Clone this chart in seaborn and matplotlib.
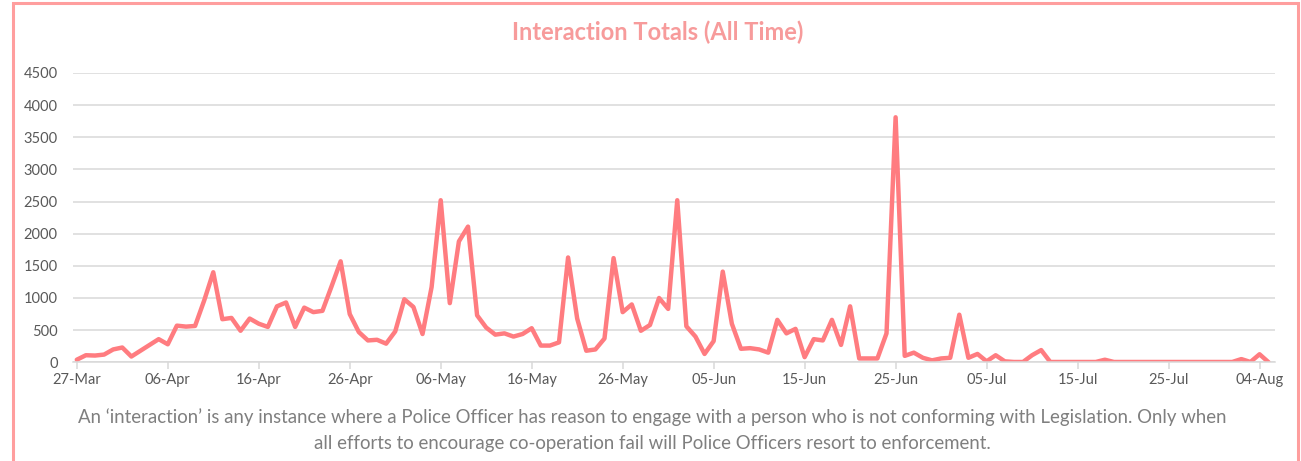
import matplotlib
matplotlib.use("Agg")
import matplotlib.pyplot as plt
import matplotlib.dates as mdates
from matplotlib.patches import Rectangle
import numpy as np
import pandas as pd
import seaborn as sns

# ---- data -------------------------------------------------------------
start_date = "2020-03-27"
values = [
    40, 110, 105, 120, 200, 230, 90, 180, 270, 360,          # 27-Mar .. 05-Apr
    280, 570, 555, 565, 960, 1400, 670, 690, 490, 680,       # 06-Apr .. 15-Apr
    600, 550, 870, 930, 550, 850, 780, 800, 1180, 1570,      # 16-Apr .. 25-Apr
    750, 470, 340, 350, 290, 480, 980, 860, 440, 1170,       # 26-Apr .. 05-May
    2520, 920, 1880, 2110, 730, 540, 430, 450, 400, 440,     # 06-May .. 15-May
    530, 260, 260, 310, 1630, 680, 180, 200, 370, 1620,      # 16-May .. 25-May
    780, 900, 490, 580, 1000, 830, 2520, 560, 400, 130,      # 26-May .. 04-Jun
    330, 1410, 600, 210, 220, 200, 150, 660, 450, 520,       # 05-Jun .. 14-Jun
    80, 360, 340, 660, 270, 870, 60, 60, 60, 450,            # 15-Jun .. 24-Jun
    3810, 100, 150, 70, 30, 60, 70, 740, 70, 130,            # 25-Jun .. 04-Jul
    15, 110, 15, 5, 5, 110, 190, 5, 5, 5,                    # 05-Jul .. 14-Jul
    5, 5, 5, 40, 5, 5, 5, 5, 5, 5,                           # 15-Jul .. 24-Jul
    5, 5, 5, 5, 5, 5, 5, 5, 50, 5,                           # 25-Jul .. 03-Aug
    125, 0,                                                  # 04-Aug .. 05-Aug
]
dates = pd.date_range(start_date, periods=len(values), freq="D")
tick_dates = pd.date_range(start_date, periods=14, freq="10D")
y_ticks = [0, 500, 1000, 1500, 2000, 2500, 3000, 3500, 4000, 4500]
title = "Interaction Totals (All Time)"
caption = ("An \u2018interaction\u2019 is any instance where a Police Officer has reason to engage with a person who is not conforming with Legislation. Only when\n"
           "all efforts to encourage co-operation fail will Police Officers resort to enforcement.")

df = pd.DataFrame({"date": dates, "value": values})

# ---- style ------------------------------------------------------------
sns.set_theme(style="white")
plt.rcParams["font.family"] = ["Lato", "DejaVu Sans"]

LINE = "#FF7C80"
GRID = "#D9D9D9"
TXT = "#595959"

fig = plt.figure(figsize=(13.01, 4.61), dpi=100)
ax = fig.add_axes([73 / 1301, 1 - 362.3 / 461, (1275 - 73) / 1301, (362.3 - 72.9) / 461])

sns.lineplot(data=df, x="date", y="value", ax=ax, color=LINE, linewidth=3.2,
             solid_joinstyle="round", solid_capstyle="round")

ax.set_ylim(0, 4500)
ax.set_yticks(y_ticks)
ax.set_yticklabels([str(v) for v in y_ticks])
ax.set_xlim(dates[0] - pd.Timedelta(hours=10), dates[0] + pd.Timedelta(days=131.7))
ax.set_xticks(tick_dates)
ax.xaxis.set_major_formatter(mdates.DateFormatter("%d-%b"))

ax.grid(axis="y", color=GRID, linewidth=1.1)
ax.grid(axis="x", visible=False)
ax.set_axisbelow(True)
for s in ["top", "right", "left"]:
    ax.spines[s].set_visible(False)
ax.spines["bottom"].set_color(GRID)
ax.spines["bottom"].set_linewidth(1.1)
ax.tick_params(axis="x", which="major", bottom=True, length=5, width=1.1, color=GRID,
               labelsize=10.5, labelcolor=TXT, pad=3)
ax.tick_params(axis="y", left=False, length=0, labelsize=10.5, labelcolor=TXT, pad=11)
ax.set_xlabel("")
ax.set_ylabel("")

fig.text(658 / 1301, 1 - 32 / 461, title, ha="center", va="center",
         fontsize=17, fontweight="bold", color="#F79B9B")
fig.text(652 / 1301, 1 - 430 / 461, caption, ha="center", va="center",
         fontsize=13.4, color="#7F7F7F", linespacing=1.62)

# outer border
fig.patches.append(Rectangle((12.5 / 1301, -0.05), (1297.5 - 12.5) / 1301, 1 - 3 / 461 + 0.05,
                             transform=fig.transFigure, fill=False,
                             edgecolor="#FF9E9E", linewidth=2.2, clip_on=False))

fig.savefig("out.png", dpi=100, facecolor="white")
